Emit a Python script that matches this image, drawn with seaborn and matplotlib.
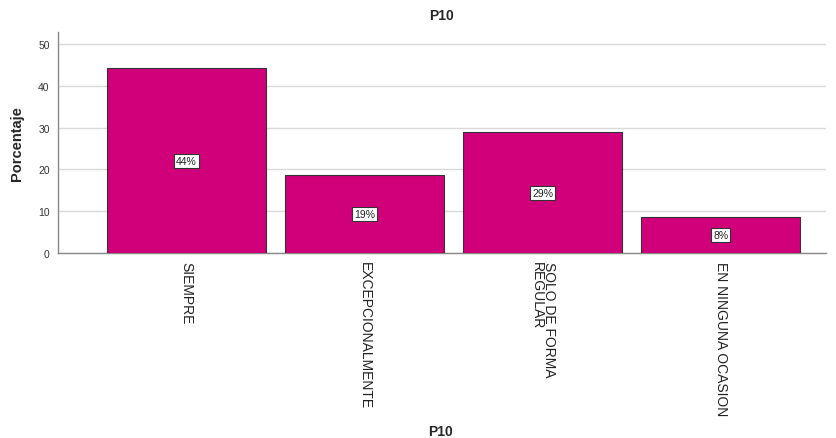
import matplotlib
matplotlib.use("Agg")
import matplotlib.pyplot as plt
import seaborn as sns
import pandas as pd

categories = ["SIEMPRE", "EXCEPCIONALMENTE", "SOLO DE FORMA\nREGULAR", "EN NINGUNA OCASION"]
values = [44.2, 18.6, 28.9, 8.6]
labels = ["44%", "19%", "29%", "8%"]
yticks = [0, 10, 20, 30, 40, 50]

sns.set_style("white")
plt.rcParams['font.family'] = ['Liberation Sans', 'DejaVu Sans']

df = pd.DataFrame({"cat": categories, "val": values})

fig = plt.figure(figsize=(8.36, 4.39), dpi=100)
ax = fig.add_axes([0.0694, 0.4214, 0.9186, 0.5036])
sns.barplot(data=df, x="cat", y="val", color="#D0007A", saturation=1,
            width=0.893, edgecolor="#333333", linewidth=0.8, ax=ax, zorder=3)

ax.set_ylim(0, 52.9)
ax.set_xlim(-0.72, 3.59)
ax.set_yticks(yticks)
ax.set_yticklabels([str(t) for t in yticks], fontsize=7.5, color="#333333")
ax.yaxis.grid(True, color="#d9d9d9", linewidth=1, zorder=0)
ax.set_axisbelow(True)
ax.tick_params(axis="both", length=0, pad=6)
ax.set_xticks(range(len(categories)))
ax.set_xticklabels(categories, rotation=270, fontsize=10, color="#222222",
                   va="top", ha="center", linespacing=0.8, multialignment="left")
for s in ["top", "right"]:
    ax.spines[s].set_visible(False)
for s in ["left", "bottom"]:
    ax.spines[s].set_color("#888888")
    ax.spines[s].set_linewidth(1)

for i, (v, lab) in enumerate(zip(values, labels)):
    ax.text(i, v / 2, lab, ha="center", va="center", fontsize=7.5, color="#222222",
            bbox=dict(boxstyle="square,pad=0.2", facecolor="white", edgecolor="#333333", linewidth=0.8),
            zorder=5)

ax.set_title("P10", fontsize=10, fontweight="bold", pad=9)
ax.set_ylabel("Porcentaje", fontsize=10.5, fontweight="bold", labelpad=10)
ax.set_xlabel("")
fig.text(0.5268, 0.016, "P10", ha="center", va="center", fontsize=10, fontweight="bold")

fig.savefig("out.png", dpi=100, facecolor="white")
